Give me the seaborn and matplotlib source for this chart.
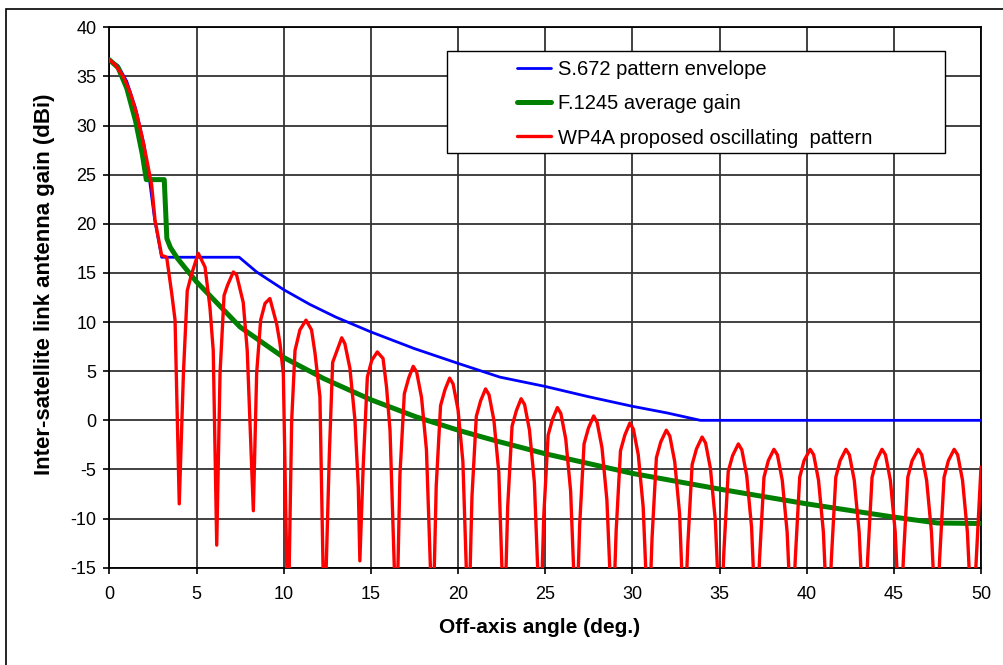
import matplotlib
matplotlib.use("Agg")
import matplotlib.pyplot as plt
import seaborn as sns
from matplotlib.patches import Rectangle

# S.672 pattern envelope (blue)
blue_x = [0, 0.5, 1.0, 1.5, 2.0, 2.33, 2.6, 3.0, 7.45, 8.45, 10.0, 11.5, 13.0, 15.0,
          17.5, 20.0, 22.4, 25.0, 27.5, 30.0, 32.0, 33.9, 50.0]
blue_y = [36.7, 36.1, 34.5, 31.8, 28.0, 24.1, 20.4, 16.6, 16.6, 15.1, 13.3, 11.8, 10.5, 9.0,
          7.3, 5.8, 4.4, 3.45, 2.4, 1.43, 0.75, 0.0, 0.0]

# F.1245 average gain (green)
green_x = [0, 0.5, 1.0, 1.5, 1.9, 2.12, 3.15, 3.3, 3.5, 3.9, 4.4, 5.0, 6.2, 7.5, 10.0, 12.3,
           15.0, 17.6, 20.0, 22.2, 25.0, 30.0, 35.0, 40.0, 45.0, 47.5, 50.0]
green_y = [36.7, 35.9, 33.8, 30.5, 27.0, 24.5, 24.5, 18.5, 17.6, 16.5, 15.4, 14.1, 11.9, 9.5, 6.4, 4.25,
           2.1, 0.35, -1.0, -2.1, -3.4, -5.4, -7.0, -8.5, -9.85, -10.45, -10.5]

# WP4A proposed oscillating pattern (red), one row per lobe
red_x = [0, 0.33, 0.8, 1.19, 1.57, 1.86, 2.14, 2.43, 2.62, 3.0, 3.29, 3.58, 3.77,
         4.01, 4.25, 4.47, 4.72, 5.1, 5.49, 5.77, 5.96,
         6.16, 6.35, 6.58, 6.77, 7.11, 7.3, 7.68, 7.91,
         8.26, 8.45, 8.68, 8.93, 9.21, 9.6, 9.79, 9.98,
         10.25, 10.46, 10.65, 10.93, 11.28, 11.6, 11.8, 12.08,
         12.33, 12.62, 12.81, 13.04, 13.33, 13.51, 13.8, 14.09, 14.28,
         14.37, 14.56, 14.8, 15.05, 15.37, 15.7, 15.9, 16.1,
         16.47, 16.67, 16.92, 17.17, 17.43, 17.63, 17.91, 18.19,
         18.55, 18.75, 19.0, 19.25, 19.52, 19.72, 20.0, 20.28,
         20.6, 20.8, 21.05, 21.3, 21.58, 21.78, 22.06, 22.34,
         22.65, 22.85, 23.1, 23.35, 23.62, 23.82, 24.1, 24.38,
         24.72, 24.92, 25.17, 25.42, 25.7, 25.9, 26.18, 26.46,
         26.78, 26.98, 27.23, 27.48, 27.78, 27.98, 28.26, 28.54,
         28.87, 29.07, 29.32, 29.57, 29.86, 30.06, 30.34, 30.62,
         30.93, 31.13, 31.38, 31.63, 31.95, 32.15, 32.43, 32.71,
         32.98, 33.18, 33.43, 33.68, 34.0, 34.2, 34.48, 34.76,
         35.05, 35.25, 35.5, 35.75, 36.08, 36.28, 36.56, 36.84,
         37.1, 37.3, 37.55, 37.8, 38.12, 38.32, 38.6, 38.88,
         39.15, 39.35, 39.6, 39.85, 40.2, 40.4, 40.68, 40.96,
         41.22, 41.42, 41.67, 41.92, 42.25, 42.45, 42.73, 43.01,
         43.3, 43.5, 43.75, 44.0, 44.32, 44.52, 44.8, 45.08,
         45.35, 45.55, 45.8, 46.05, 46.4, 46.6, 46.88, 47.16,
         47.43, 47.63, 47.88, 48.13, 48.46, 48.66, 48.94, 49.22,
         49.5, 50.0]
red_y = [36.7, 36.2, 35.0, 33.4, 31.2, 29.0, 26.6, 23.9, 20.4, 16.8, 16.6, 12.9, 10.2,
         -8.5, 4.8, 13.2, 14.9, 17.0, 15.6, 11.5, 7.1,
         -12.7, 4.8, 12.7, 13.7, 15.1, 14.8, 12.0, 7.1,
         -9.2, 4.8, 10.2, 11.9, 12.4, 9.8, 7.8, 4.75,
         -22, 0.0, 7.1, 9.2, 10.2, 9.2, 6.8, 2.4,
         -22, -3.4, 5.9, 7.0, 8.4, 7.8, 5.3, 0.0, -6.8,
         -14.3, -4.75, 4.4, 6.1, 6.96, 6.3, 3.4, -1.0,
         -22, -5.5, 2.7, 4.3, 5.5, 4.9, 2.3, -3.0,
         -22, -6.7, 1.5, 3.1, 4.3, 3.7, 1.1, -4.2,
         -22, -7.8, 0.4, 2.0, 3.2, 2.6, 0.0, -5.3,
         -22, -8.8, -0.6, 1.0, 2.2, 1.6, -1.0, -6.3,
         -22, -9.7, -1.5, 0.1, 1.3, 0.7, -1.9, -7.2,
         -22, -10.6, -2.4, -0.8, 0.45, -0.2, -2.8, -8.1,
         -22, -11.3, -3.1, -1.5, -0.27, -0.9, -3.5, -8.8,
         -22, -12.0, -3.8, -2.2, -1.0, -1.6, -4.2, -9.5,
         -22, -12.7, -4.5, -2.9, -1.7, -2.3, -4.9, -10.2,
         -22, -13.4, -5.2, -3.6, -2.4, -3.0, -5.6, -10.9,
         -22, -14.0, -5.8, -4.1, -2.95, -3.5, -6.1, -11.4,
         -22, -14.0, -5.8, -4.1, -2.95, -3.5, -6.1, -11.4,
         -22, -14.0, -5.8, -4.1, -2.95, -3.5, -6.1, -11.4,
         -22, -14.0, -5.8, -4.1, -2.95, -3.5, -6.1, -11.4,
         -22, -14.0, -5.8, -4.1, -2.95, -3.5, -6.1, -11.4,
         -22, -14.0, -5.8, -4.1, -2.95, -3.5, -6.1, -11.4,
         -22, -4.75]

labels = ["S.672 pattern envelope", "F.1245 average gain",
          "WP4A proposed oscillating  pattern"]

sns.set_theme(style="white")
plt.rcParams['font.family'] = ['Liberation Sans', 'DejaVu Sans']
plt.rcParams['axes.unicode_minus'] = False

fig = plt.figure(figsize=(10.04, 6.65), dpi=100)
ax = fig.add_axes([0.1089, 0.1463, 0.8682, 0.8126])

sns.lineplot(x=blue_x, y=blue_y, color='#0000FF', lw=2.0, label=labels[0],
             estimator=None, sort=False, ax=ax, zorder=3)
sns.lineplot(x=green_x, y=green_y, color='#008000', lw=3.6, label=labels[1],
             estimator=None, sort=False, ax=ax, zorder=3)
sns.lineplot(x=red_x, y=red_y, color='#FF0000', lw=2.4, label=labels[2],
             estimator=None, sort=False, ax=ax, zorder=3)

ax.set_xlim(0, 50)
ax.set_ylim(-15, 40)
ax.set_xticks(range(0, 51, 5))
ax.set_yticks(range(-15, 41, 5))
ax.grid(True, color='#333333', lw=1.3)
ax.set_axisbelow(True)
for s in ax.spines.values():
    s.set_color('black')
    s.set_linewidth(1.3)
ax.tick_params(axis='both', which='major', direction='out', length=4.3, width=1.2,
               color='black', labelsize=13, labelcolor='black',
               bottom=True, left=True)
ax.tick_params(axis='x', pad=9)
ax.tick_params(axis='y', pad=5)

ax.set_xlabel("Off-axis angle (deg.)", fontsize=15, fontweight='bold', color='black')
ax.set_ylabel("Inter-satellite link antenna gain (dBi)", fontsize=16, fontweight='bold',
              color='black')
ax.xaxis.set_label_coords(0.493, -0.093)
ax.yaxis.set_label_coords(-0.062, 0.525)

# legend box (Excel style, wide left margin)
ax.add_patch(Rectangle((0.387, 0.767), 0.572, 0.189, transform=ax.transAxes,
                       facecolor='white', edgecolor='black', lw=1.0, zorder=4))
leg = ax.legend(loc='upper left', bbox_to_anchor=(0.4677, 0.939), frameon=False,
                borderpad=0, borderaxespad=0, fontsize=14.5, handlelength=1.7,
                handletextpad=0.35, labelspacing=0.75)
leg.set_zorder(5)
for t in leg.get_texts():
    t.set_color('black')

# outer chart border (only left/top edges fall inside the image)
fig.patches.append(Rectangle((6 / 1004, -0.1), 1.2, 0.1 + 1 - 9 / 665,
                             transform=fig.transFigure, fill=False,
                             edgecolor='black', lw=1.2))

fig.savefig("out.png", dpi=100)
